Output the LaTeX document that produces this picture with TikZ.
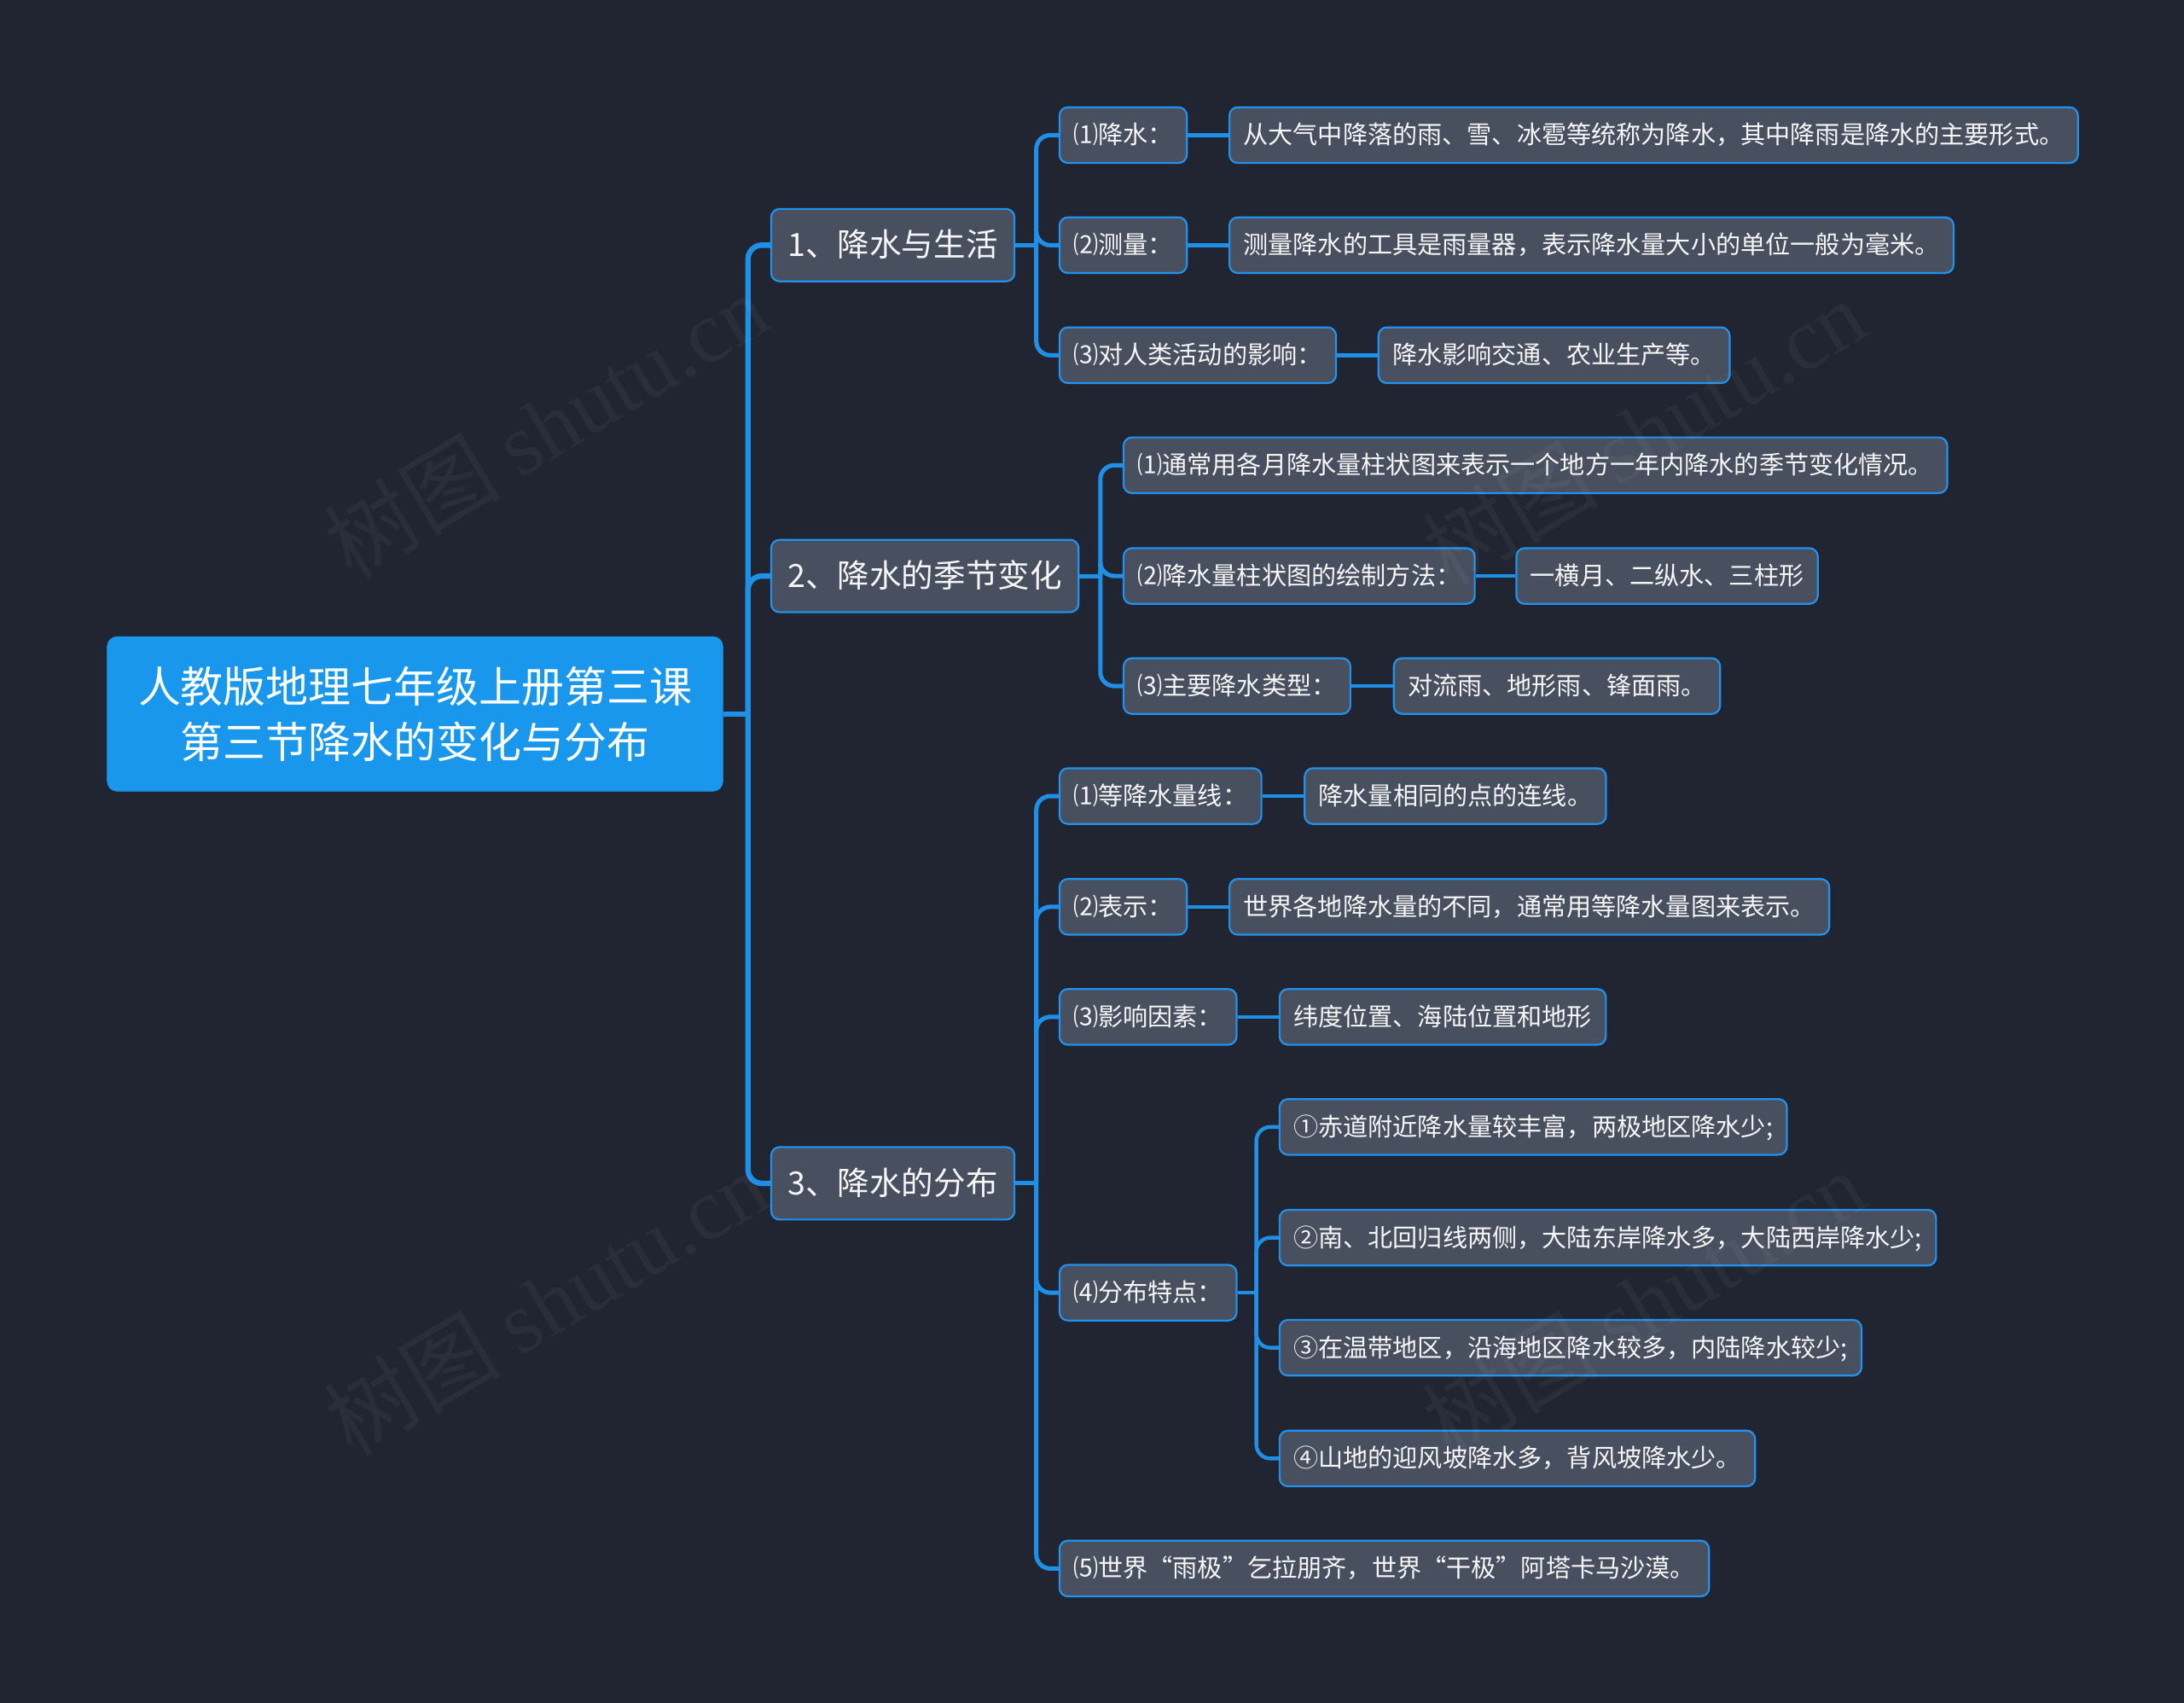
\documentclass[tikz,border=0pt]{standalone}
\usepackage{fontspec}
\setmainfont{Noto Sans CJK SC}
\newfontfamily\wmserif{Liberation Serif}
\definecolor{bgc}{RGB}{33,37,49}
\definecolor{nodegray}{RGB}{72,79,95}
\definecolor{edgeblue}{RGB}{33,147,238}
\definecolor{lineblue}{RGB}{30,144,232}
\definecolor{rootblue}{RGB}{24,151,237}
\definecolor{txt}{RGB}{246,246,246}
\tikzset{
  basebox/.style={draw=edgeblue, line width=1.9pt, fill=nodegray, rounded corners=3mm,
    text=txt, inner ysep=0pt, anchor=west},
  smallbox/.style={basebox, font=\fontsize{25.4pt}{30pt}\selectfont, minimum height=20mm,
    inner xsep=5mm, text height=21.8pt, text depth=3.6pt},
  topicbox/.style={basebox, font=\fontsize{32.7pt}{38pt}\selectfont, minimum height=26mm,
    inner xsep=6mm, text height=28.1pt, text depth=4.6pt},
  rootbox/.style={fill=rootblue, draw=rootblue, rounded corners=3.5mm, text=white,
    font=\fontsize{43.5pt}{56.9pt}\selectfont, align=center, minimum width=221mm, minimum height=55.5mm},
  linkA/.style={draw=lineblue, line width=5.5pt},
  linkB/.style={draw=lineblue, line width=4.4pt},
  linkC/.style={draw=lineblue, line width=3.8pt},
  roundjoin/.style={rounded corners=5mm},
  wm/.style={text=white, text opacity=0.045, font=\fontsize{90pt}{100pt}\selectfont, rotate=31}
}
\begin{document}
\begin{tikzpicture}[x=0.5mm,y=-0.5mm]
\fill[bgc] (0,0) rectangle (1568,1222.55);
\useasboundingbox (0,0) rectangle (1568,1222.55);

% root
\node[rootbox] (root) at (298,512.5) {人教版地理七年级上册第三课\\第三节降水的变化与分布};

% level 1
\node[topicbox] (n1) at (553,176) {1、降水与生活};
\node[topicbox] (n2) at (553,413.5) {2、降水的季节变化};
\node[topicbox] (n3) at (553,849.5) {3、降水的分布};

% branch 1
\node[smallbox] (a1) at (760,97) {⑴降水：};
\node[smallbox] (a1l) at (882,97) {从大气中降落的雨、雪、冰雹等统称为降水，其中降雨是降水的主要形式。};
\node[smallbox] (a2) at (760,176) {⑵测量：};
\node[smallbox] (a2l) at (882,176) {测量降水的工具是雨量器，表示降水量大小的单位一般为毫米。};
\node[smallbox] (a3) at (760,255) {⑶对人类活动的影响：};
\node[smallbox] (a3l) at (989,255) {降水影响交通、农业生产等。};

% branch 2
\node[smallbox] (b1) at (806,334) {⑴通常用各月降水量柱状图来表示一个地方一年内降水的季节变化情况。};
\node[smallbox] (b2) at (806,413.5) {⑵降水量柱状图的绘制方法：};
\node[smallbox] (b2l) at (1088,413.5) {一横月、二纵水、三柱形};
\node[smallbox] (b3) at (806,492.5) {⑶主要降水类型：};
\node[smallbox] (b3l) at (1000,492.5) {对流雨、地形雨、锋面雨。};

% branch 3
\node[smallbox] (c1) at (760,571.5) {⑴等降水量线：};
\node[smallbox] (c1l) at (936,571.5) {降水量相同的点的连线。};
\node[smallbox] (c2) at (760,651) {⑵表示：};
\node[smallbox] (c2l) at (882,651) {世界各地降水量的不同，通常用等降水量图来表示。};
\node[smallbox] (c3) at (760,730) {⑶影响因素：};
\node[smallbox] (c3l) at (918,730) {纬度位置、海陆位置和地形};
\node[smallbox] (c4) at (760,928) {⑷分布特点：};
\node[smallbox] (d1) at (918,809) {①赤道附近降水量较丰富，两极地区降水少;};
\node[smallbox] (d2) at (918,888.5) {②南、北回归线两侧，大陆东岸降水多，大陆西岸降水少;};
\node[smallbox] (d3) at (918,967.5) {③在温带地区，沿海地区降水较多，内陆降水较少;};
\node[smallbox] (d4) at (918,1047) {④山地的迎风坡降水多，背风坡降水少。};
\node[smallbox] (c5) at (760,1126) {⑸世界“雨极”乞拉朋齐，世界“干极”阿塔卡马沙漠。};

% bus points
\coordinate (rb) at (537,512.5);
\coordinate (n1b) at (744,176);
\coordinate (n2b) at (790,413.5);
\coordinate (n3b) at (744,849.5);
\coordinate (c4b) at (902,928);

% connectors
\draw[linkA] (root.east) -- (rb);
\foreach \c in {n1,n2,n3} \draw[linkA,roundjoin] (rb) |- (\c.west);

\draw[linkB] (n1.east) -- (n1b);
\foreach \c in {a1,a2,a3} \draw[linkB,roundjoin] (n1b) |- (\c.west);
\draw[linkB] (n2.east) -- (n2b);
\foreach \c in {b1,b2,b3} \draw[linkB,roundjoin] (n2b) |- (\c.west);
\draw[linkB] (n3.east) -- (n3b);
\foreach \c in {c1,c2,c3,c4,c5} \draw[linkB,roundjoin] (n3b) |- (\c.west);
\draw[linkC] (c4.east) -- (c4b);
\foreach \c in {d1,d2,d3,d4} \draw[linkC,roundjoin] (c4b) |- (\c.west);

\draw[linkC] (a1.east) -- (a1l.west);
\draw[linkC] (a2.east) -- (a2l.west);
\draw[linkC] (a3.east) -- (a3l.west);
\draw[linkC] (b2.east) -- (b2l.west);
\draw[linkC] (b3.east) -- (b3l.west);
\draw[linkC] (c1.east) -- (c1l.west);
\draw[linkC] (c2.east) -- (c2l.west);
\draw[linkC] (c3.east) -- (c3l.west);

% watermarks
\node[wm] (w1) at (392,305) {树图 {\wmserif shutu.cn}};
\node[wm] (w2) at (1180,310) {树图 {\wmserif shutu.cn}};
\node[wm] (w3) at (392,935) {树图 {\wmserif shutu.cn}};
\node[wm] (w4) at (1180,935) {树图 {\wmserif shutu.cn}};
\end{tikzpicture}
\end{document}
